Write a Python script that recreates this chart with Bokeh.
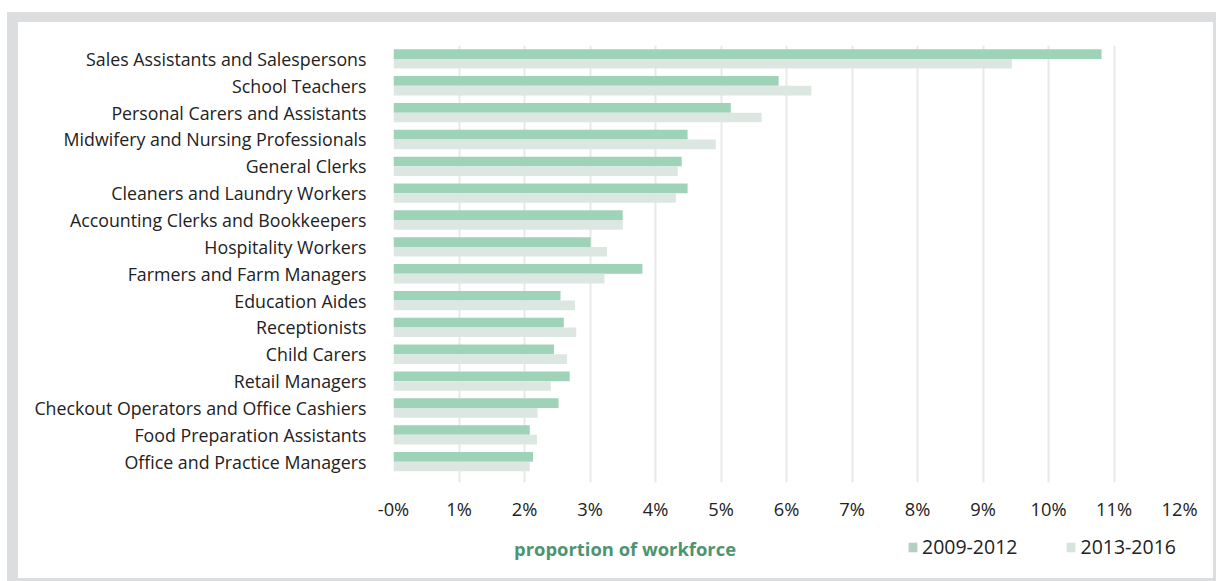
from bokeh.plotting import figure
from bokeh.models import (Range1d, FixedTicker, Legend, LegendItem, Label,
                          ColumnDataSource, Column)
from bokeh.embed import file_html
from bokeh.resources import INLINE

categories = [
    "Sales Assistants and Salespersons",
    "School Teachers",
    "Personal Carers and Assistants",
    "Midwifery and Nursing Professionals",
    "General Clerks",
    "Cleaners and Laundry Workers",
    "Accounting Clerks and Bookkeepers",
    "Hospitality Workers",
    "Farmers and Farm Managers",
    "Education Aides",
    "Receptionists",
    "Child Carers",
    "Retail Managers",
    "Checkout Operators and Office Cashiers",
    "Food Preparation Assistants",
    "Office and Practice Managers",
]
series_2009_2012 = [10.81, 5.88, 5.15, 4.49, 4.40, 4.49, 3.50, 3.01, 3.80,
                    2.55, 2.60, 2.45, 2.69, 2.52, 2.08, 2.13]
series_2013_2016 = [9.44, 6.38, 5.62, 4.92, 4.34, 4.31, 3.50, 3.26, 3.22,
                    2.77, 2.79, 2.65, 2.40, 2.20, 2.19, 2.08]
x_ticks = list(range(0, 13))
x_tick_labels = ["-0%", "1%", "2%", "3%", "4%", "5%", "6%", "7%", "8%",
                 "9%", "10%", "11%", "12%"]
legend_labels = ["2009-2012", "2013-2016"]
axis_title = "proportion of workforce"

FONT = "Open Sans"
GREEN = "#9fd3b8"
LIGHT = "#dbe7e0"
LEG1 = "#b4d0c1"
LEG2 = "#d7e4dc"
TEXT = "#222222"

n = len(categories)
pos = [n - 1 - i for i in range(n)]
off = 0.18
src = ColumnDataSource(dict(
    cat=categories,
    y1=[p_ + off for p_ in pos],
    y2=[p_ - off for p_ in pos],
    v1=series_2009_2012,
    v2=series_2013_2016,
))

# ---- main chart ----
p = figure(width=1195, height=508, output_backend="svg", toolbar_location=None,
           x_range=Range1d(0, 12), y_range=Range1d(-0.775, n - 0.5),
           min_border_left=375, min_border_right=34, min_border_top=23,
           min_border_bottom=48, background_fill_color="white",
           border_fill_color="white")
p.outline_line_color = None

p.hbar(y="y1", right="v1", left=0, height=0.36, source=src,
       fill_color=GREEN, line_color=None)
p.hbar(y="y2", right="v2", left=0, height=0.36, source=src,
       fill_color=LIGHT, line_color=None)

p.xaxis.ticker = FixedTicker(ticks=x_ticks)
p.xaxis.major_label_overrides = {t: l for t, l in zip(x_ticks, x_tick_labels)}
p.xaxis.axis_line_color = None
p.xaxis.major_tick_line_color = None
p.xaxis.minor_tick_line_color = None
p.xaxis.major_label_standoff = 7
p.xaxis.major_label_text_font = FONT
p.xaxis.major_label_text_font_size = "18.3px"
p.xaxis.major_label_text_color = TEXT

p.yaxis.ticker = FixedTicker(ticks=pos)
p.yaxis.major_label_overrides = {pp: c for pp, c in zip(pos, categories)}
p.yaxis.axis_line_color = None
p.yaxis.major_tick_line_color = None
p.yaxis.minor_tick_line_color = None
p.yaxis.major_label_standoff = 21
p.yaxis.major_label_text_font = FONT
p.yaxis.major_label_text_font_size = "17.8px"
p.yaxis.major_label_text_color = TEXT

p.xgrid.grid_line_color = "#e8e8e8"
p.xgrid.grid_line_width = 2
p.ygrid.grid_line_color = None

# ---- footer strip: axis title + legend (frame aligned with main frame) ----
f = figure(width=1195, height=48, output_backend="svg", toolbar_location=None,
           x_range=p.x_range, y_range=Range1d(0, 48),
           min_border_left=375, min_border_right=34, min_border_top=0,
           min_border_bottom=0, background_fill_color="white",
           border_fill_color="white")
f.outline_line_color = None
f.axis.visible = False
f.grid.visible = False

nan = float("nan")
r1 = f.quad(left=[nan], right=[nan], top=[nan], bottom=[nan],
            fill_color=LEG1, line_color=None)
r2 = f.quad(left=[nan], right=[nan], top=[nan], bottom=[nan],
            fill_color=LEG2, line_color=None)
legend = Legend(items=[LegendItem(label=legend_labels[0], renderers=[r1]),
                       LegendItem(label=legend_labels[1], renderers=[r2])],
                orientation="horizontal", location=(514, 18),
                glyph_width=11, glyph_height=12, label_standoff=4, spacing=48,
                padding=0, margin=0, border_line_color=None,
                background_fill_alpha=0,
                label_text_font=FONT, label_text_font_size="19.5px",
                label_text_color=TEXT)
f.add_layout(legend, "center")

lab = Label(x=3.535, y=30, text=axis_title, text_align="center",
            text_baseline="middle", text_font=FONT, text_font_size="18.4px",
            text_font_style="bold", text_color="#4e9470")
f.add_layout(lab)

layout = Column(p, f, spacing=0,
                styles={"background-color": "white",
                        "border-style": "solid",
                        "border-color": "#dcdddf",
                        "border-width": "10px 3px 3px 11px",
                        "margin": "12px 0 0 7px"})

open("out.html", "w").write(file_html(layout, INLINE))
